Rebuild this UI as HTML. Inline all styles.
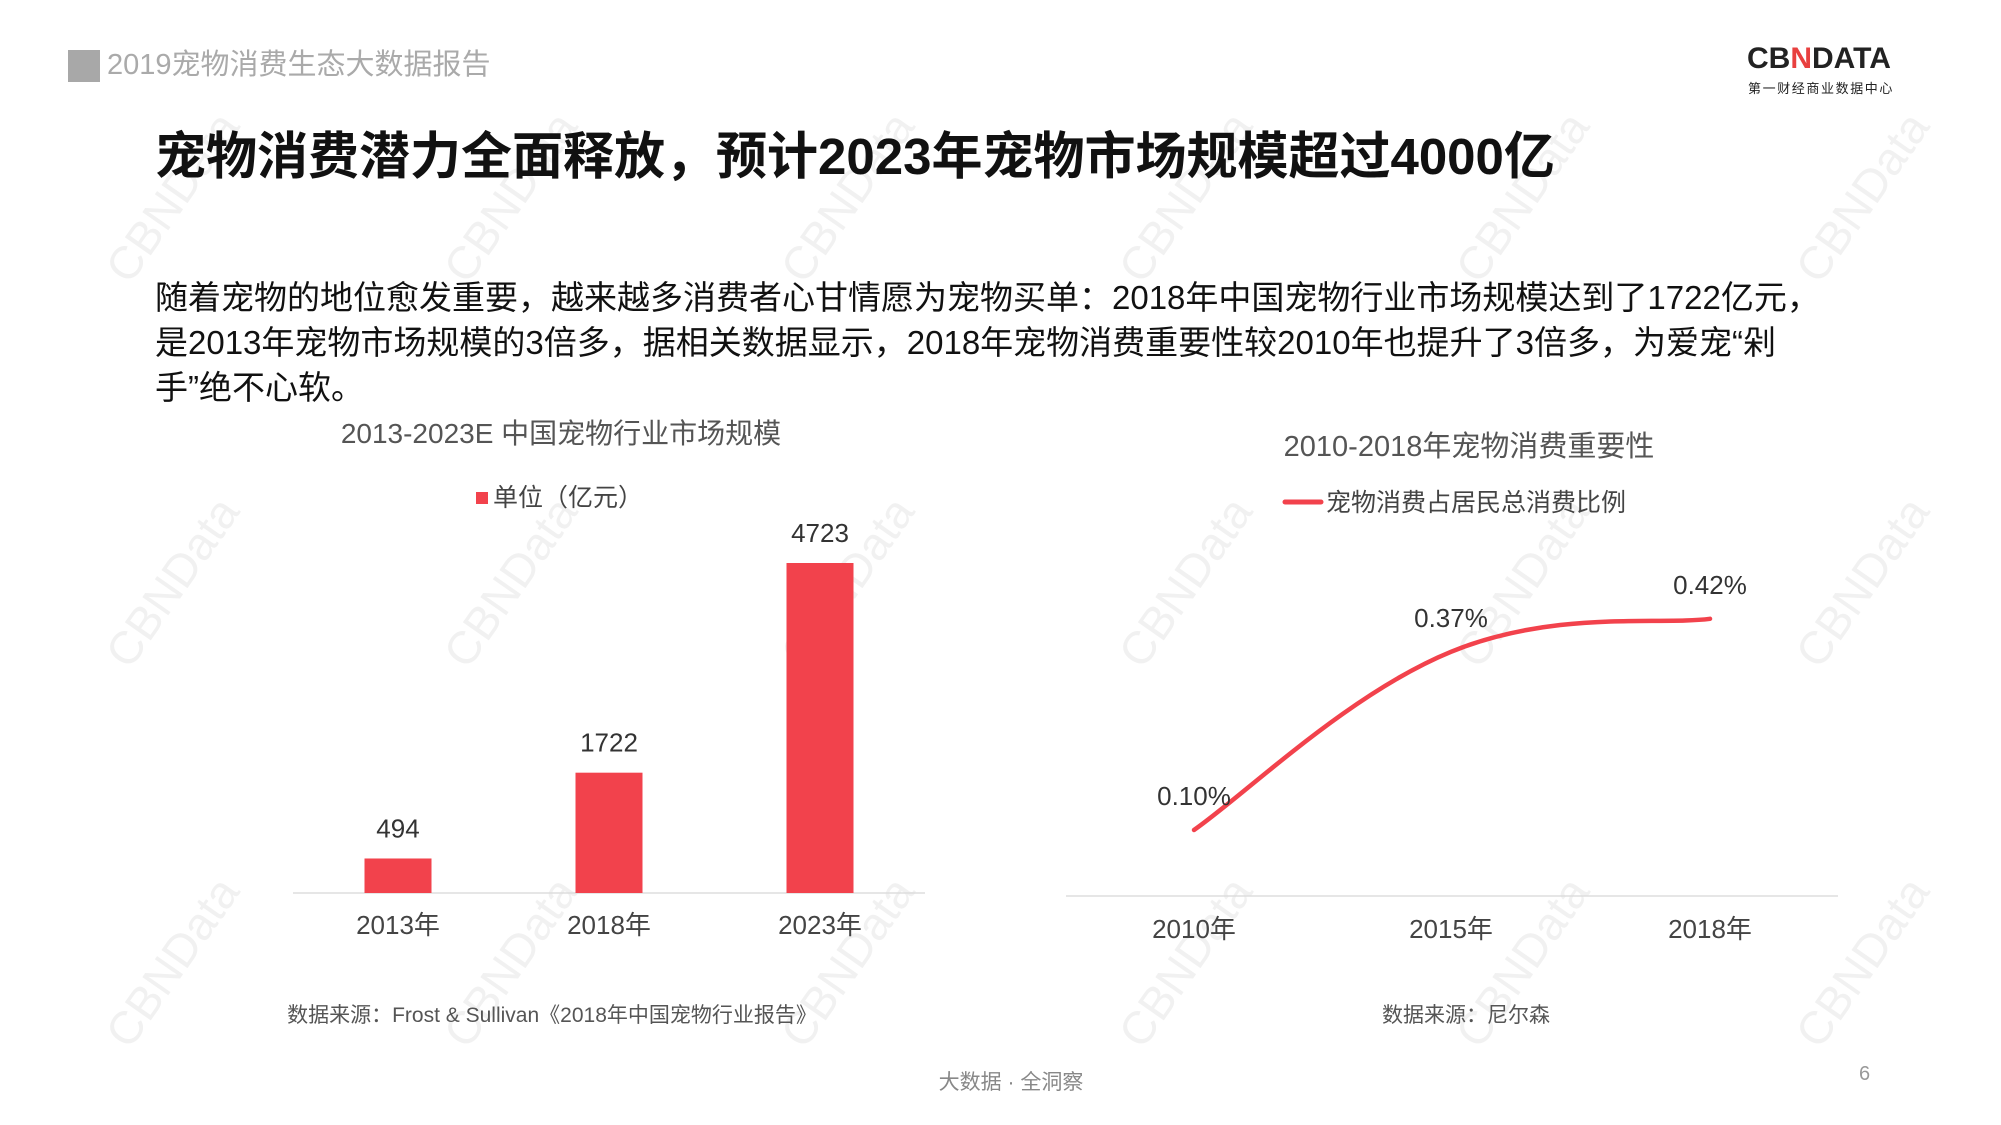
<!DOCTYPE html>
<html><head><meta charset="utf-8">
<style>
body{margin:0;width:2001px;height:1125px;background:#fff;overflow:hidden;position:relative;font-family:"Liberation Sans","Noto Sans CJK SC",sans-serif;}
.t{position:absolute;white-space:nowrap;}
.wm{position:absolute;font-size:46px;color:#f1f1f1;transform:rotate(-55deg);white-space:nowrap;}
</style></head><body>
<div id="wms"></div>
<div style="position:absolute;left:68px;top:50px;width:32px;height:32px;background:#a8a8a8"></div>
<div class="t" style="left:107px;top:47px;font-size:29px;color:#aaa;line-height:36px">2019宠物消费生态大数据报告</div>
<div class="t" style="left:1747px;top:43px;font-size:30px;font-weight:bold;color:#222;line-height:32px">CB<span style="color:#e8403f">N</span>DATA</div>
<div class="t" style="left:1748px;top:78px;font-size:13px;color:#222;letter-spacing:1.6px">第一财经商业数据中心</div>
<div class="t" style="left:155px;top:127px;font-size:51px;line-height:60px;font-weight:bold;color:#111">宠物消费潜力全面释放，预计2023年宠物市场规模超过4000亿</div>
<div class="t" style="left:155px;top:275px;font-size:33px;line-height:45px;color:#111">随着宠物的地位愈发重要，越来越多消费者心甘情愿为宠物买单：2018年中国宠物行业市场规模达到了1722亿元，<br>是2013年宠物市场规模的3倍多，据相关数据显示，2018年宠物消费重要性较2010年也提升了3倍多，为爱宠“剁<br>手”绝不心软。</div>
<svg id="chart" width="2001" height="1125" style="position:absolute;left:0;top:0" font-family="Liberation Sans, Noto Sans CJK SC, sans-serif"></svg>
<div class="t" style="left:1011px;top:1066px;transform:translateX(-50%);font-size:21px;color:#888">大数据 · 全洞察</div>
<div class="t" style="left:1859px;top:1063px;font-size:20px;color:#999">6</div>
<script>
const barCats=["2013年","2018年","2023年"];
const barVals=[494,1722,4723];
const lineCats=["2010年","2015年","2018年"];
const lineVals=[0.10,0.37,0.42];
const lineLabels=["0.10%","0.37%","0.42%"];
const NS="http://www.w3.org/2000/svg";
const svg=document.getElementById('chart');
function mk(tag,attrs,txt){const e=document.createElementNS(NS,tag);for(const k in attrs)e.setAttribute(k,attrs[k]);if(txt!==undefined)e.textContent=txt;svg.appendChild(e);return e;}
const RED="#f2424c";
const wms=document.getElementById('wms');
[[170,195],[508,195],[845,195],[1183,195],[1520,195],[1860,195],[170,580],[508,580],[845,580],[1183,580],[1520,580],[1860,580],[170,960],[508,960],[845,960],[1183,960],[1520,960],[1860,960]].forEach(p=>{
const d=document.createElement('div');d.className='wm';d.textContent='CBNData';d.style.left=(p[0]-95)+'px';d.style.top=(p[1]-25)+'px';


wms.appendChild(d);});
// left bar chart
const base=893;
const bx=i=>398+i*211;
const by=v=>base-v*(330/4723);
let e;
e=mk('text',{x:561,y:443,'font-size':28,fill:'#555','text-anchor':'middle'},'2013-2023E 中国宠物行业市场规模');

e=mk('rect',{x:476,y:492,width:12,height:12,fill:RED});

e=mk('text',{x:493,y:506,'font-size':25,fill:'#444'},'单位（亿元）');

e=mk('line',{x1:293,x2:925,y1:base,y2:base,stroke:'#ddd','stroke-width':1.5});

barVals.forEach((v,i)=>{
 e=mk('rect',{x:bx(i)-33.5,y:by(v),width:67,height:base-by(v),fill:RED});
 
 e=mk('text',{x:bx(i),y:by(v)-21,'font-size':26,fill:'#333','text-anchor':'middle'},String(v));
 
 e=mk('text',{x:bx(i),y:934,'font-size':26,fill:'#444','text-anchor':'middle'},barCats[i]);
 
});
e=mk('text',{x:552,y:1022,'font-size':21,fill:'#555','text-anchor':'middle'},'数据来源：Frost & Sullivan《2018年中国宠物行业报告》');

// right line chart
const rbase=896;
const lx=i=>[1194,1451,1710][i];
const ly=v=>rbase-v*660;
e=mk('text',{x:1469,y:456,'font-size':29,fill:'#555','text-anchor':'middle'},'2010-2018年宠物消费重要性');

e=mk('line',{x1:1285,x2:1321,y1:502,y2:502,stroke:RED,'stroke-width':5,'stroke-linecap':'round'});

e=mk('text',{x:1326,y:511,'font-size':25,fill:'#444'},'宠物消费占居民总消费比例');

e=mk('line',{x1:1066,x2:1838,y1:rbase,y2:rbase,stroke:'#ddd','stroke-width':1.5});

const pts=lineVals.map((v,i)=>[lx(i),ly(v)]);
let d='M'+pts[0][0]+','+pts[0][1];
for(let i=0;i<pts.length-1;i++){
 const p0=pts[Math.max(i-1,0)],p1=pts[i],p2=pts[i+1],p3=pts[Math.min(i+2,pts.length-1)];
 const t=0.2;
 const c1=[p1[0]+(p2[0]-p0[0])*t,p1[1]+(p2[1]-p0[1])*t];
 const c2=[p2[0]-(p3[0]-p1[0])*t,p2[1]-(p3[1]-p1[1])*t];
 d+=` C${c1[0]},${c1[1]} ${c2[0]},${c2[1]} ${p2[0]},${p2[1]}`;
}
e=mk('path',{d:d,fill:'none',stroke:RED,'stroke-width':4.5,'stroke-linecap':'round'});

lineVals.forEach((v,i)=>{
 e=mk('text',{x:lx(i),y:ly(v)-25,'font-size':26,fill:'#333','text-anchor':'middle'},lineLabels[i]);
 
 e=mk('text',{x:lx(i),y:938,'font-size':26,fill:'#444','text-anchor':'middle'},lineCats[i]);
 
});
e=mk('text',{x:1466,y:1022,'font-size':21,fill:'#555','text-anchor':'middle'},'数据来源：尼尔森');

</script>
</body></html>
